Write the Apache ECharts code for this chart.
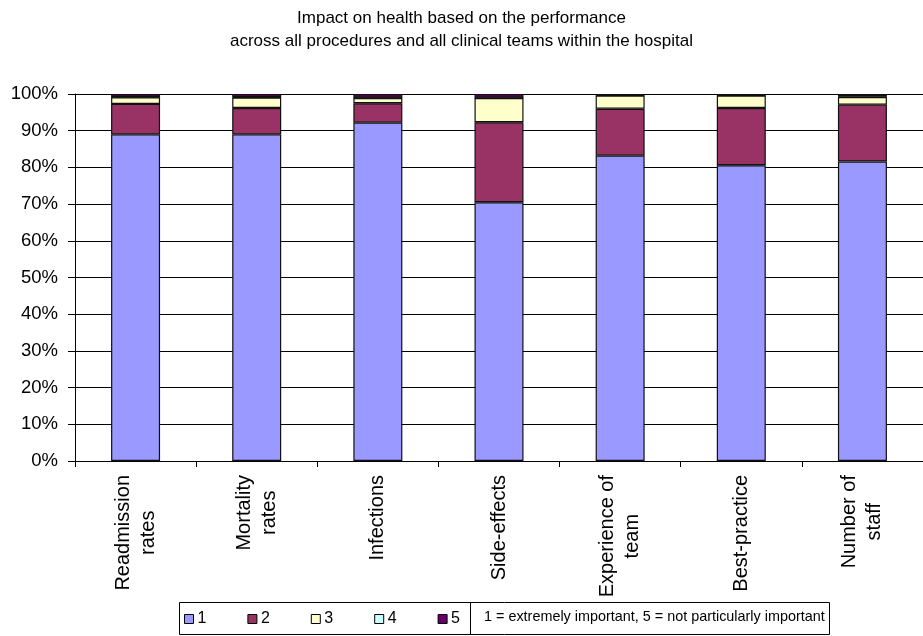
<!DOCTYPE html>
<html>
<head>
<meta charset="utf-8">
<script src="https://cdn.jsdelivr.net/npm/echarts@6/dist/echarts.min.js"></script>
<style>
html,body{margin:0;padding:0;background:#fff;}
#chart{width:923px;height:636px;}
</style>
</head>
<body>
<div id="chart"></div>
<script>
var categories = ['Readmission\nrates', 'Mortality\nrates', 'Infections', 'Side-effects', 'Experience of\nteam', 'Best-practice', 'Number of\nstaff'];
var seriesNames = ['1', '2', '3', '4', '5'];
var s1 = [89.0, 89.0, 92.2, 70.5, 83.2, 80.6, 81.6];
var s2 = [8.3, 7.2, 5.3, 21.8, 12.8, 15.6, 15.5];
var s3 = [1.8, 2.8, 1.4, 6.6, 3.6, 3.4, 2.1];
var s4 = [0.1, 0.1, 0.1, 0.1, 0.1, 0.1, 0.1];
var s5 = [0.8, 0.9, 1.0, 1.0, 0.3, 0.3, 0.7];
var yTicks = [0, 10, 20, 30, 40, 50, 60, 70, 80, 90, 100];
var titleLines = ['Impact on health based on the performance', 'across all procedures and all clinical teams within the hospital'];
var noteText = '1 = extremely important, 5 = not particularly important';

var colors = ['#9999FF', '#993366', '#FFFFCC', '#CCFFFF', '#660066'];
var values = [s1, s2, s3, s4, s5];
var FONT = '"Liberation Sans", Arial, sans-serif';

var chart = echarts.init(document.getElementById('chart'), null, {renderer: 'canvas'});

var series = seriesNames.map(function (name, i) {
  return {
    name: name,
    type: 'bar',
    stack: 'total',
    barWidth: 49,
    data: values[i],
    itemStyle: {color: colors[i], borderColor: '#111', borderWidth: 1.2},
    emphasis: {disabled: true}
  };
});

chart.setOption({
  animation: false,
  backgroundColor: '#fff',
  title: {
    text: titleLines.join('\n'),
    left: 'center',
    top: 2,
    textStyle: {fontFamily: FONT, fontSize: 17, fontWeight: 'normal', color: '#000', lineHeight: 23}
  },
  legend: {
    data: seriesNames,
    left: 184,
    top: 611,
    padding: 0,
    icon: 'rect',
    itemWidth: 9,
    itemHeight: 9,
    itemGap: 41,
    textStyle: {fontFamily: FONT, fontSize: 16, color: '#000', padding: [0, 0, 0, -1]},
    itemStyle: {borderColor: '#000', borderWidth: 1}
  },
  grid: {left: 75, right: -6, top: 94, bottom: 175, containLabel: false},
  xAxis: {
    type: 'category',
    data: categories,
    axisLine: {lineStyle: {color: '#000', width: 1}},
    axisTick: {show: true, length: 6, lineStyle: {color: '#000'}},
    axisLabel: {
      interval: 0,
      rotate: 90,
      margin: 14,
      formatter: function (v) {
        return v.split('\n').map(function (s) { return '{c|' + s + '}'; }).join('\n');
      },
      rich: {
        c: {fontFamily: FONT, fontSize: 20, color: '#000', align: 'center', lineHeight: 25}
      }
    }
  },
  yAxis: {
    type: 'value',
    min: yTicks[0],
    max: yTicks[yTicks.length - 1],
    interval: 10,
    axisLine: {show: true, lineStyle: {color: '#000', width: 1}},
    axisTick: {show: true, length: 7, lineStyle: {color: '#000'}},
    axisLabel: {formatter: '{value}%', fontFamily: FONT, fontSize: 18.5, color: '#000', margin: 17},
    splitLine: {show: true, lineStyle: {color: '#000', width: 1}}
  },
  graphic: [
    {type: 'rect', shape: {x: 179.5, y: 602.5, width: 650, height: 32}, style: {fill: 'none', stroke: '#000', lineWidth: 1}, silent: true},
    {type: 'line', shape: {x1: 470.5, y1: 602.5, x2: 470.5, y2: 634.5}, style: {stroke: '#000', lineWidth: 1}, silent: true},
    {type: 'text', left: 484, top: 610, style: {text: noteText, font: '14.4px ' + FONT, fill: '#000'}, silent: true}
  ],
  series: series
});
</script>
</body>
</html>
